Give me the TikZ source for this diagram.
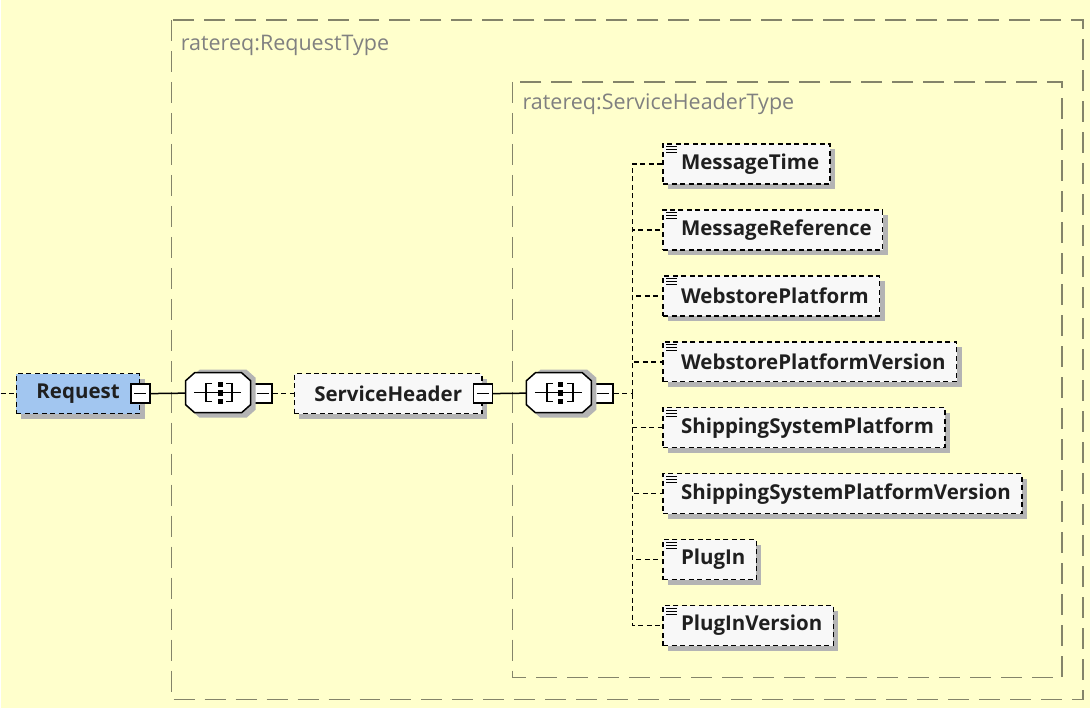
\documentclass[tikz,border=0pt]{standalone}
\usepackage{fontspec}
\setmainfont{Open Sans}
\usetikzlibrary{shadows}

\begin{document}
\begin{tikzpicture}[x=1pt, y=-1pt]
  \definecolor{paper}{HTML}{FFFFCC}
  \definecolor{frame}{HTML}{84846A}
  \definecolor{reqblue}{HTML}{A2C6F0}
  \definecolor{boxwhite}{HTML}{F8F8F8}
  \definecolor{shadowgray}{HTML}{B4B4B4}
  \tikzstyle{shade}=[drop shadow={shadow xshift=5pt, shadow yshift=-5pt, fill=shadowgray, opacity=1}]
  \tikzstyle{typebox}=[draw=frame, line width=1.5pt, dash pattern=on 21pt off 10pt]
  \tikzstyle{typename}=[text=black!50, font=\fontsize{21.5}{25}\selectfont, anchor=west, inner sep=0pt]
  \tikzstyle{element}=[draw, line width=1.5pt, dash pattern=on 5pt off 3.5pt, fill=boxwhite, shade,
    minimum height=40pt, inner xsep=11pt, anchor=west, text=black!88,
    font=\fontsize{20.5}{24}\selectfont\bfseries]
  \tikzstyle{leaf}=[element, execute at begin node=\hspace*{7pt},
    path picture={
      \draw[line width=1.2pt, solid] ([xshift=3pt,yshift=-3pt]path picture bounding box.north west) -- ++(11pt,0);
      \draw[line width=1.2pt, solid] ([xshift=3pt,yshift=-6pt]path picture bounding box.north west) -- ++(11pt,0);
      \draw[line width=1.2pt, solid] ([xshift=3pt,yshift=-9pt]path picture bounding box.north west) -- ++(11pt,0);}]
  \tikzstyle{minus}=[draw, solid, fill=white, line width=1.5pt, minimum size=19pt, inner sep=0pt,
    path picture={\draw[line width=1.5pt] ([xshift=-6pt]path picture bounding box.center) -- ++(12pt,0);}]
  \tikzstyle{seq}=[minimum width=65pt, minimum height=40pt, inner sep=0pt]
  \tikzstyle{link}=[line width=1.5pt]
  \tikzstyle{optlink}=[link, dash pattern=on 5pt off 3.5pt]

  \fill[paper] (0,0) rectangle (1090,708);

  % type frames
  \draw[typebox] (171,20) rectangle (1083,700);
  \draw[typebox] (512,82) rectangle (1062,678);
  \node[typename] (reqtype) at (180,45) {ratereq:RequestType};
  \node[typename] (shtype) at (522,104) {ratereq:ServiceHeaderType};

  % main row
  \coordinate (in) at (0,394);
  \node[element, fill=reqblue, inner xsep=20pt] (req) at (15,394) {Request};
  \node[minus] (reqm) at (req.east) {};
  \node[seq] (seq1) at (217.5,393) {};
  \node[minus] (seq1m) at (262,394) {};
  \node[element, inner xsep=20pt] (sh) at (293,394) {ServiceHeader};
  \node[minus] (shm) at (sh.east) {};
  \node[seq] (seq2) at (558.5,393) {};
  \node[minus] (seq2m) at (603,394) {};
  \coordinate (fork) at (632,394);

  % sequence compositors
  \begin{scope}[shift={(seq1)}, line width=1.5pt]
    \fill[shadowgray] (-27.5,-15) -- (-18.5,-23) -- (28.5,-23) -- (37.5,-15) -- (37.5,17) -- (28.5,25) -- (-18.5,25) -- (-27.5,17) -- cycle;
    \filldraw[fill=white] (-32.5,-12) -- (-23.5,-20) -- (23.5,-20) -- (32.5,-12) -- (32.5,12) -- (23.5,20) -- (-23.5,20) -- (-32.5,12) -- cycle;
    \draw (-24,0) -- (23,0);
    \draw (-6,-9) -- (-12,-9) -- (-12,9) -- (-6,9);
    \draw (8,-9) -- (14,-9) -- (14,9) -- (8,9);
    \fill (-0.5,-11) rectangle (4.5,-6);
    \fill (-0.5,-3) rectangle (4.5,3);
    \fill (-0.5,6) rectangle (4.5,11);
  \end{scope}
  \begin{scope}[shift={(seq2)}, line width=1.5pt]
    \fill[shadowgray] (-27.5,-15) -- (-18.5,-23) -- (28.5,-23) -- (37.5,-15) -- (37.5,17) -- (28.5,25) -- (-18.5,25) -- (-27.5,17) -- cycle;
    \filldraw[fill=white] (-32.5,-12) -- (-23.5,-20) -- (23.5,-20) -- (32.5,-12) -- (32.5,12) -- (23.5,20) -- (-23.5,20) -- (-32.5,12) -- cycle;
    \draw (-24,0) -- (23,0);
    \draw (-6,-9) -- (-12,-9) -- (-12,9) -- (-6,9);
    \draw (8,-9) -- (14,-9) -- (14,9) -- (8,9);
    \fill (-0.5,-11) rectangle (4.5,-6);
    \fill (-0.5,-3) rectangle (4.5,3);
    \fill (-0.5,6) rectangle (4.5,11);
  \end{scope}

  % children of ServiceHeaderType
  \node[leaf] (mtime) at (662,164) {MessageTime};
  \node[leaf] (mref) at (662,230) {MessageReference};
  \node[leaf] (wplat) at (662,296) {WebstorePlatform};
  \node[leaf] (wver) at (662,362) {WebstorePlatformVersion};
  \node[leaf] (splat) at (662,428) {ShippingSystemPlatform};
  \node[leaf] (sver) at (662,494) {ShippingSystemPlatformVersion};
  \node[leaf] (plug) at (662,560) {PlugIn};
  \node[leaf] (pver) at (662,626) {PlugInVersion};

  \draw[optlink] (in) -- (req);
  \draw[link] (reqm) -- (seq1);
  \draw[optlink] (seq1m) -- (sh);
  \draw[link] (shm) -- (seq2);
  \draw[optlink] (seq2m) -- (fork);
  \draw[optlink] (fork) |- (mtime.west);
  \draw[optlink] (fork) |- (mref.west);
  \draw[optlink] (fork) |- (wplat.west);
  \draw[optlink] (fork) |- (wver.west);
  \draw[optlink] (fork) |- (splat.west);
  \draw[optlink] (fork) |- (sver.west);
  \draw[optlink] (fork) |- (plug.west);
  \draw[optlink] (fork) |- (pver.west);
\end{tikzpicture}
\end{document}
